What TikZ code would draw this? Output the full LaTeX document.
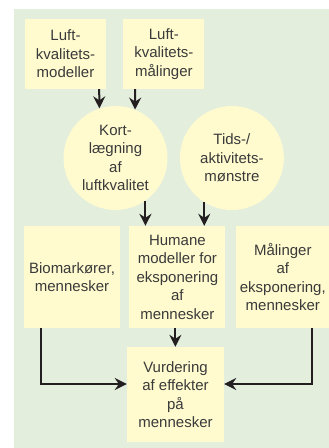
\documentclass[tikz,border=0pt]{standalone}
\usepackage{fontspec}
\setmainfont{Liberation Sans}
\usepackage{xcolor}
\usetikzlibrary{arrows.meta,positioning}
\definecolor{bggreen}{HTML}{E3EEDD}
\definecolor{boxyellow}{HTML}{FFFBCF}
\definecolor{txtgray}{HTML}{3A3A3A}
\definecolor{linedark}{HTML}{231F20}
\tikzset{
	block/.style={fill=boxyellow, inner sep=0pt, align=center, text=txtgray, font=\fontsize{15}{18.5}\selectfont},
	smallblock/.style={block, minimum width=81pt, minimum height=70pt},
	bigblock/.style={block, minimum width=96pt, minimum height=102pt},
	disc/.style={block, circle, minimum size=104pt},
	link/.style={draw=linedark, line width=2pt, -{Stealth[length=12pt,width=12pt,inset=4pt]}}
}
\newcommand{\connectelbow}[3]{
	\draw[link] (#1) |- ([yshift=10.5pt]#2.#3);
}

\begin{document}
\begin{tikzpicture}[x=1pt, y=-1pt]
	\useasboundingbox (0,0) rectangle (329,448);
	\fill[bggreen] (14,9) rectangle (329,448);

	% inputs
	\node[smallblock] (lmod) at (65.5,54) {Luft-\\kvalitets-\\modeller};
	\node[smallblock, right=17pt of lmod] (lmaal) {Luft-\\kvalitets-\\målinger};

	\node[disc] (kort) at (115.5,158) {Kort-\\lægning\\af\\luftkvalitet};
	\node[disc, right=12pt of kort] (tids) {Tids-/\\aktivitets-\\mønstre};

	\draw[link] ([xshift=-7pt]lmod.south east) -- (kort.108);
	\draw[link] ([xshift=12pt]lmaal.south west) -- (kort.68);

	% middle row
	\node[bigblock] (bio) at (72,277) {Biomarkører,\\mennesker};
	\node[bigblock, right=9pt of bio] (human) {Humane\\modeller for\\eksponering\\af\\mennesker};
	\node[bigblock, minimum width=94pt, right=10pt of human] (maal) {Målinger\\af\\eksponering,\\mennesker};

	\draw[link] (kort.-55) -- (kort.-55 |- human.north);
	\draw[link] (tids.-122) -- (tids.-122 |- human.north);

	% result
	\node[block, minimum width=97pt, minimum height=95pt] (vurd) at (175.5,394.5) {Vurdering\\af effekter\\på\\mennesker};

	\draw[link] ([xshift=-2pt]human.south) -- ([xshift=-2pt]human.south |- vurd.north);
	\connectelbow{[xshift=17pt]bio.south west}{vurd}{west}
	\connectelbow{[xshift=-18pt]maal.south east}{vurd}{east}
\end{tikzpicture}
\end{document}
